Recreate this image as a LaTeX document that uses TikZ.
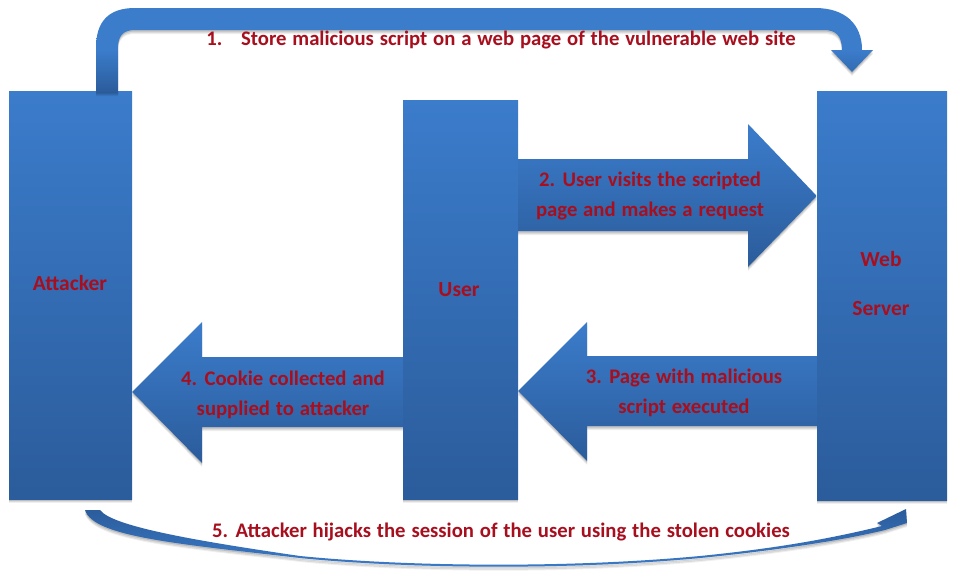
\documentclass[tikz,border=0pt]{standalone}
\usepackage{fontspec}
\setmainfont{Carlito}[BoldFont={Carlito Bold},WordSpace={1.25,1,1}]
\usetikzlibrary{shadows}
\definecolor{topblue}{HTML}{3B7CCB}
\definecolor{botblue}{HTML}{2B5C9B}
\definecolor{labelred}{HTML}{A80F1E}
\tikzset{
  softshadow/.style={
    drop shadow={shadow xshift=0pt,shadow yshift=-4pt,opacity=.06,fill=black},
    drop shadow={shadow xshift=0pt,shadow yshift=-3pt,opacity=.09,fill=black},
    drop shadow={shadow xshift=0pt,shadow yshift=-1.5pt,opacity=.13,fill=black}},
  bluefill/.style={top color=topblue,bottom color=botblue,draw=none,softshadow},
  flatfill/.style={top color=topblue,bottom color=botblue,middle color=topblue,draw=none,softshadow},
  actorbox/.style={rectangle,bluefill,inner sep=0pt},
  steplabel/.style={font=\bfseries\fontsize{20.7}{30}\selectfont,text=labelred,align=center,inner sep=0pt},
}
\begin{document}
\begin{tikzpicture}[x=1pt,y=-1pt]
\useasboundingbox[fill=white] (0,0) rectangle (955,570);
% actors
\node[actorbox,minimum width=123pt,minimum height=408pt] (attacker) at (70.5,295) {};
\node[actorbox,minimum width=115pt,minimum height=399pt] (user) at (460.5,299.5) {};
\node[actorbox,minimum width=130pt,minimum height=409pt] (server) at (882,295.5) {};
\node[steplabel,font=\bfseries\fontsize{21.5}{26}\selectfont] (attackerlabel) at (70,283) {Attacker};
\node[steplabel,font=\bfseries\fontsize{21.5}{26}\selectfont] (userlabel) at (459,289.5) {User};
\node[steplabel,font=\bfseries\fontsize{21.5}{49}\selectfont] (serverlabel) at (881,284) {Web\\Server};
% arrow 1
\path[flatfill] (96,92) -- (96,48) .. controls (96,22) and (108,8) .. (135,8)
  -- (815,8) .. controls (845,8) and (862,24) .. (862,50) -- (873,50)
  -- (852,72) -- (831,50) -- (842,50) .. controls (842,36) and (836,30) .. (824,30)
  -- (135,30) .. controls (123,30) and (118,36) .. (118,48) -- (118,92) -- cycle;
% arrow 2
\path[bluefill] (user.east |- 0,159) -- (748,159) -- (748,124) -- (server.west |- 0,196)
  -- (748,267) -- (748,231) -- (user.east |- 0,231) -- cycle;
% arrow 3
\path[bluefill] (server.west |- 0,356) -- (587,356) -- (587,322) -- (user.east |- 0,391)
  -- (587,461) -- (587,426) -- (server.west |- 0,426) -- cycle;
% arrow 4
\path[bluefill] (user.west |- 0,357) -- (202,357) -- (202,322) -- (attacker.east |- 0,392)
  -- (202,463) -- (202,427) -- (user.west |- 0,427) -- cycle;
% arrow 5
\path[top color=botblue,bottom color=topblue,draw=none,softshadow]
  (85,510) -- (100,510) .. controls (112,526) and (190,540) .. (300,556)
  .. controls (400,566) and (560,569) .. (700,556)
  .. controls (770,549) and (825,540) .. (882,526)
  -- (877,523) -- (906,509) -- (907,523) -- (885,530)
  .. controls (840,541) and (770,551) .. (700,558)
  .. controls (560,571) and (400,568) .. (300,558)
  .. controls (180,544) and (93,537) .. (85,510) -- cycle;
% labels
\node[steplabel] (s1) at (501,40) {1.\hspace{0.55em} Store malicious script on a web page of the vulnerable web site};
\node[steplabel] (s2) at (650,196) {2. User visits the scripted\\page and makes a request};
\node[steplabel] (s3) at (684,392.5) {3. Page with malicious\\script executed};
\node[steplabel] (s4) at (283,395) {4. Cookie collected and\\supplied to attacker};
\node[steplabel] (s5) at (501,532) {5. Attacker hijacks the session of the user using the stolen cookies};
\end{tikzpicture}
\end{document}
